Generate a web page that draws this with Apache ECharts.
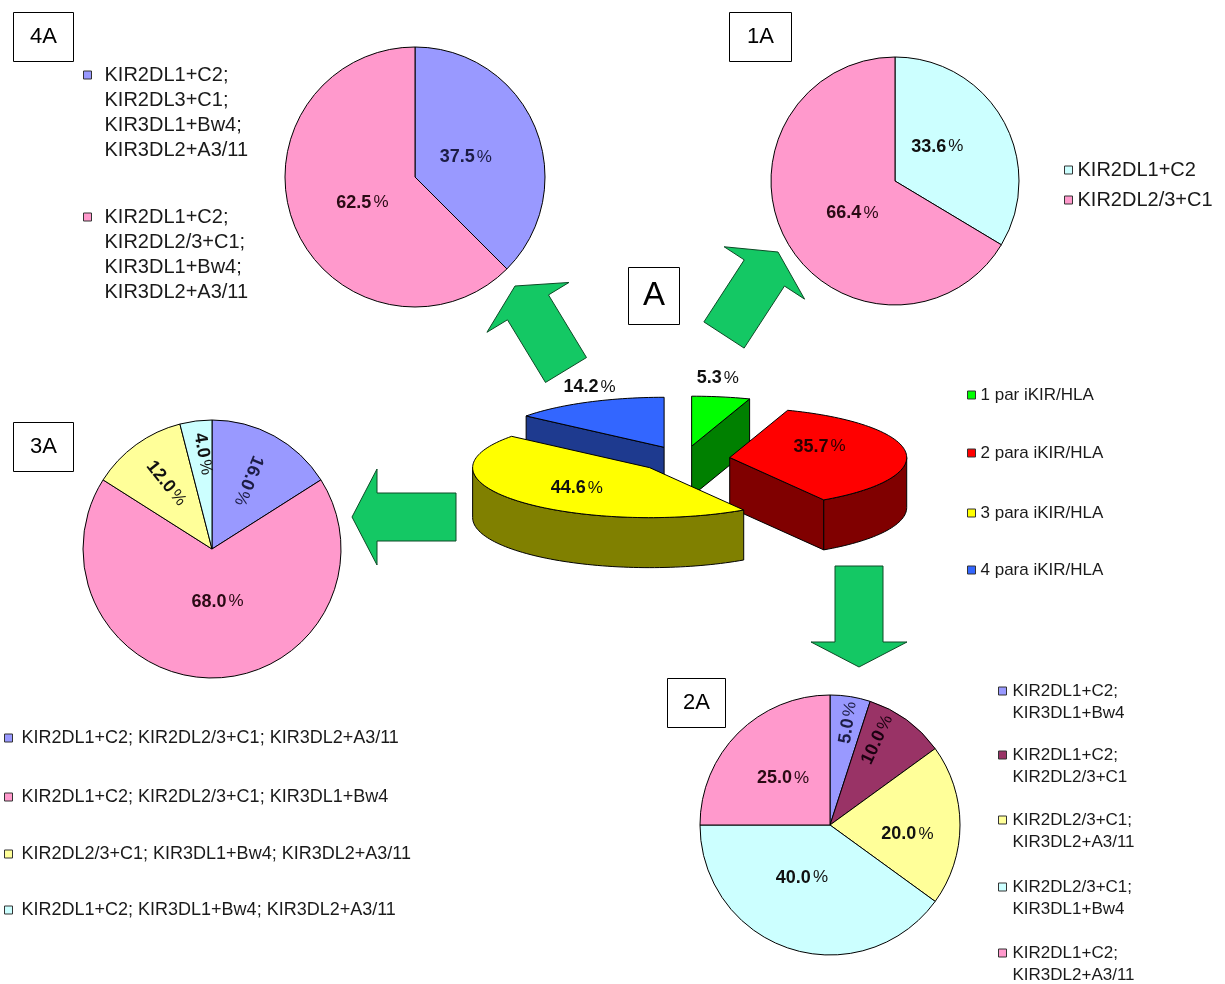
<!DOCTYPE html>
<html>
<head>
<meta charset="utf-8">
<script src="https://cdn.jsdelivr.net/npm/echarts@6/dist/echarts.min.js"></script>
<style>html,body{margin:0;padding:0;background:#fff;}#c{width:1225px;height:984px;}</style>
</head>
<body>
<div id="c"></div>
<script>
// ---------------- DATA ----------------
const mainNames = ['1 par iKIR/HLA', '2 para iKIR/HLA', '3 para iKIR/HLA', '4 para iKIR/HLA'];
const mainValues = [5.3, 35.7, 44.6, 14.2];

const pie1ANames = ['KIR2DL1+C2', 'KIR2DL2/3+C1'];
const pie1AValues = [33.6, 66.4];

const pie2ANames = ['KIR2DL1+C2;\nKIR3DL1+Bw4', 'KIR2DL1+C2;\nKIR2DL2/3+C1', 'KIR2DL2/3+C1;\nKIR3DL2+A3/11', 'KIR2DL2/3+C1;\nKIR3DL1+Bw4', 'KIR2DL1+C2;\nKIR3DL2+A3/11'];
const pie2AValues = [5.0, 10.0, 20.0, 40.0, 25.0];

const pie3ANames = ['KIR2DL1+C2; KIR2DL2/3+C1; KIR3DL2+A3/11', 'KIR2DL1+C2; KIR2DL2/3+C1; KIR3DL1+Bw4', 'KIR2DL2/3+C1; KIR3DL1+Bw4; KIR3DL2+A3/11', 'KIR2DL1+C2; KIR3DL1+Bw4; KIR3DL2+A3/11'];
const pie3AValues = [16.0, 68.0, 12.0, 4.0];

const pie4ANames = ['KIR2DL1+C2;\nKIR2DL3+C1;\nKIR3DL1+Bw4;\nKIR3DL2+A3/11', 'KIR2DL1+C2;\nKIR2DL2/3+C1;\nKIR3DL1+Bw4;\nKIR3DL2+A3/11'];
const pie4AValues = [37.5, 62.5];

const panelLabels = ['A', '1A', '2A', '3A', '4A'];

// ---------------- STYLE ----------------
const FF = '"Liberation Sans", Arial, Helvetica, sans-serif';
const LAV = '#9999FF', PINK = '#FF99CC', CYAN = '#CCFFFF', YEL = '#FFFF99', MAR = '#993366';

const pieStyles = {
  '1A': { center: [895, 181], r: 124, colors: [CYAN, PINK], anchors: [[51, 0.44, 0], [233, 0.43, 0]] },
  '2A': { center: [830, 825], r: 130, colors: [LAV, MAR, YEL, CYAN, PINK],
          anchors: [[10, 0.80, 81], [29, 0.75, 65], [97, 0.60, 0], [208, 0.46, 0], [315, 0.51, 0]] },
  '3A': { center: [212, 549], r: 129, colors: [LAV, PINK, YEL, CYAN],
          anchors: [[28, 0.60, -112], [174, 0.41, 0], [325, 0.62, -51], [354.6, 0.74, -80]] },
  '4A': { center: [415, 177], r: 130, colors: [LAV, PINK], anchors: [[68.6, 0.42, 0], [244, 0.45, 0]] }
};
const labelColors = { [LAV]: '#1c1c44', [PINK]: '#2a0a14', [CYAN]: '#111', [YEL]: '#111', [MAR]: '#1a0010' };

const richLabel = {
  n: { fontSize: 18, fontWeight: 'bold', fontFamily: FF },
  p: { fontSize: 17, fontWeight: 'normal', fontFamily: FF, padding: [0, 0, 0, 2] }
};

function pieSeries(id, names, values) {
  const s = pieStyles[id];
  return {
    type: 'pie', name: id, center: s.center, radius: s.r, startAngle: 90, clockwise: true,
    avoidLabelOverlap: false, silent: true, animation: false,
    itemStyle: { borderColor: '#000', borderWidth: 1 },
    label: {
      show: true, position: 'inside',
      formatter: p => '{n|' + p.value.toFixed(1) + '}{p|%}',
      rich: richLabel
    },
    labelLine: { show: false },
    labelLayout: params => {
      const a = s.anchors[params.dataIndex];
      const th = a[0] * Math.PI / 180;
      return {
        x: s.center[0] + a[1] * s.r * Math.sin(th),
        y: s.center[1] - a[1] * s.r * Math.cos(th),
        rotate: a[2], align: 'center', verticalAlign: 'middle'
      };
    },
    emphasis: { disabled: true },
    data: names.map((n, i) => ({
      name: n, value: values[i],
      itemStyle: { color: s.colors[i] },
      label: { color: labelColors[s.colors[i]] }
    }))
  };
}

// central 3D pie geometry
const CX = 684, CY = 459, RX = 177, RY = 50, DEPTH = 50, EXPL = 46;
const topColors = ['#00FF00', '#FF0000', '#FFFF00', '#3366FF'];
const sideColors = ['#008000', '#800000', '#808000', '#1E3A8F'];
const mainLabelCfg = [[1.3, -12, -4, '#111'], [0.5, 2, -8, '#2b0000'], [0.55, 0, 2, '#111'], [1.0, 2, -15, '#111']];
const paintOrder = [3, 0, 1, 2];

function slice3D(i) {
  return function (params, api) {
    const total = mainValues.reduce((a, b) => a + b, 0);
    let acc = 0;
    for (let j = 0; j < i; j++) acc += mainValues[j];
    const v = api.value(0);
    const a0 = acc / total * 2 * Math.PI, a1 = (acc + v) / total * 2 * Math.PI, m = (a0 + a1) / 2;
    const K = RY / RX;
    const tx = CX + EXPL * Math.sin(m), ty = CY - EXPL * K * Math.cos(m);
    const P = (a, dz) => [tx + RX * Math.sin(a), ty - RY * Math.cos(a) + (dz || 0)];
    const arc = (f, t, dz) => {
      const n = Math.max(2, Math.ceil(Math.abs(t - f) / 0.03));
      const out = [];
      for (let k = 0; k <= n; k++) out.push(P(f + (t - f) * k / n, dz));
      return out;
    };
    const st = { stroke: '#000', lineWidth: 1, lineJoin: 'round' };
    const side = sideColors[i];
    const ch = [];
    if (Math.sin(a0) < -1e-6) {
      ch.push({ type: 'polygon', shape: { points: [[tx, ty], P(a0), P(a0, DEPTH), [tx, ty + DEPTH]] }, style: Object.assign({ fill: side }, st) });
    }
    if (Math.sin(a1) > 1e-6) {
      ch.push({ type: 'polygon', shape: { points: [[tx, ty], P(a1), P(a1, DEPTH), [tx, ty + DEPTH]] }, style: Object.assign({ fill: side }, st) });
    }
    const s = Math.max(a0, Math.PI / 2), e = Math.min(a1, 1.5 * Math.PI);
    if (e > s) {
      ch.push({ type: 'polygon', shape: { points: arc(s, e, 0).concat(arc(e, s, DEPTH)) }, style: Object.assign({ fill: side }, st) });
    }
    ch.push({ type: 'polygon', shape: { points: [[tx, ty]].concat(arc(a0, a1, 0)) }, style: Object.assign({ fill: api.visual('color') }, st) });
    const lc = mainLabelCfg[i];
    ch.push({
      type: 'text',
      x: tx + lc[0] * RX * Math.sin(m) + lc[1],
      y: ty - lc[0] * RY * Math.cos(m) + lc[2],
      style: { text: '{n|' + v.toFixed(1) + '}{p|%}', rich: richLabel, fill: lc[3], align: 'center', verticalAlign: 'middle' }
    });
    return { type: 'group', children: ch };
  };
}

const mainSeries = paintOrder.map((i, k) => ({
  type: 'custom', name: mainNames[i], coordinateSystem: 'none',
  renderItem: slice3D(i), data: [[mainValues[i]]],
  itemStyle: { color: topColors[i], borderColor: '#000', borderWidth: 1 },
  silent: true, animation: false, z: 2 + k
}));

// legends: one component per item; blank leading lines put the icon beside the first text line
function legendItem(name, left, y, fs, L, n, padL) {
  const tStyle = { fontSize: fs, lineHeight: L, fontFamily: FF, color: '#1a1a1a', padding: [0, 0, 0, padL] };
  return {
    show: true, data: [name], left: left, top: y - (2 * n - 1) * L / 2, orient: 'vertical',
    padding: 0, itemWidth: 8, itemHeight: 8, icon: 'rect', selectedMode: false,
    itemStyle: { borderColor: '#333', borderWidth: 1 },
    formatter: nm => {
      const lines = nm.split('\n').map(l => '{t|' + l + '}');
      const pre = [];
      for (let k = 0; k < n - 1; k++) pre.push('{t| }');
      return pre.concat(lines).join('\n');
    },
    textStyle: { fontSize: fs, lineHeight: L, fontFamily: FF, color: '#1a1a1a', rich: { t: tStyle } }
  };
}
const legends = [];
[75, 217].forEach((y, i) => legends.push(legendItem(pie4ANames[i], 83, y, 20, 25, 4, 8)));
[170, 200].forEach((y, i) => legends.push(legendItem(pie1ANames[i], 1064, y, 20, 30, 1, 0)));
[395, 453, 513, 570].forEach((y, i) => legends.push(legendItem(mainNames[i], 967, y, 17, 20, 1, 0)));
[738, 797, 854, 910].forEach((y, i) => legends.push(legendItem(pie3ANames[i], 4, y, 18, 20, 1, 4)));
[691, 755, 820, 887, 953].forEach((y, i) => legends.push(legendItem(pie2ANames[i], 998, y, 17, 22, 2, 1)));

// panel label boxes
const panelBoxes = {
  'A':  { left: 628, top: 267, fs: 33, lh: 36, pad: [11, 15] },
  '1A': { left: 729, top: 12, fs: 22, lh: 26, pad: [12, 18] },
  '2A': { left: 667, top: 678, fs: 22, lh: 26, pad: [12, 16] },
  '3A': { left: 13, top: 422, fs: 22, lh: 26, pad: [12, 17] },
  '4A': { left: 13, top: 12, fs: 22, lh: 26, pad: [12, 17] }
};
const titles = panelLabels.map(t => {
  const b = panelBoxes[t];
  return {
    text: t, left: b.left, top: b.top, padding: b.pad, borderColor: '#000', borderWidth: 1,
    backgroundColor: '#fff',
    textStyle: { fontSize: b.fs, lineHeight: b.lh, fontWeight: 'normal', fontFamily: FF, color: '#000' }
  };
});

// green block arrows (decoration)
const arrowSpecs = [
  { from: [566, 370], to: [515, 286] },
  { from: [724, 335], to: [778, 252] },
  { from: [456, 517], to: [352, 517] },
  { from: [859, 566], to: [859, 667] }
];
function arrowPoints(f, t, w, W, h) {
  const dx = t[0] - f[0], dy = t[1] - f[1], len = Math.hypot(dx, dy);
  const ux = dx / len, uy = dy / len, nx = -uy, ny = ux;
  const hx = t[0] - ux * h, hy = t[1] - uy * h;
  return [
    [f[0] + nx * w / 2, f[1] + ny * w / 2],
    [hx + nx * w / 2, hy + ny * w / 2],
    [hx + nx * W / 2, hy + ny * W / 2],
    [t[0], t[1]],
    [hx - nx * W / 2, hy - ny * W / 2],
    [hx - nx * w / 2, hy - ny * w / 2],
    [f[0] - nx * w / 2, f[1] - ny * w / 2]
  ];
}
const graphics = arrowSpecs.map(a => ({
  type: 'polygon', silent: true, z: 1,
  shape: { points: arrowPoints(a.from, a.to, 48, 96, 25) },
  style: { fill: '#14C864', stroke: '#0d4a26', lineWidth: 1 }
}));

const chart = echarts.init(document.getElementById('c'), null, { renderer: 'canvas' });
chart.setOption({
  backgroundColor: '#fff',
  animation: false,
  title: titles,
  legend: legends,
  graphic: graphics,
  series: [
    pieSeries('4A', pie4ANames, pie4AValues),
    pieSeries('1A', pie1ANames, pie1AValues),
    pieSeries('3A', pie3ANames, pie3AValues),
    pieSeries('2A', pie2ANames, pie2AValues)
  ].concat(mainSeries)
});
</script>
</body>
</html>
